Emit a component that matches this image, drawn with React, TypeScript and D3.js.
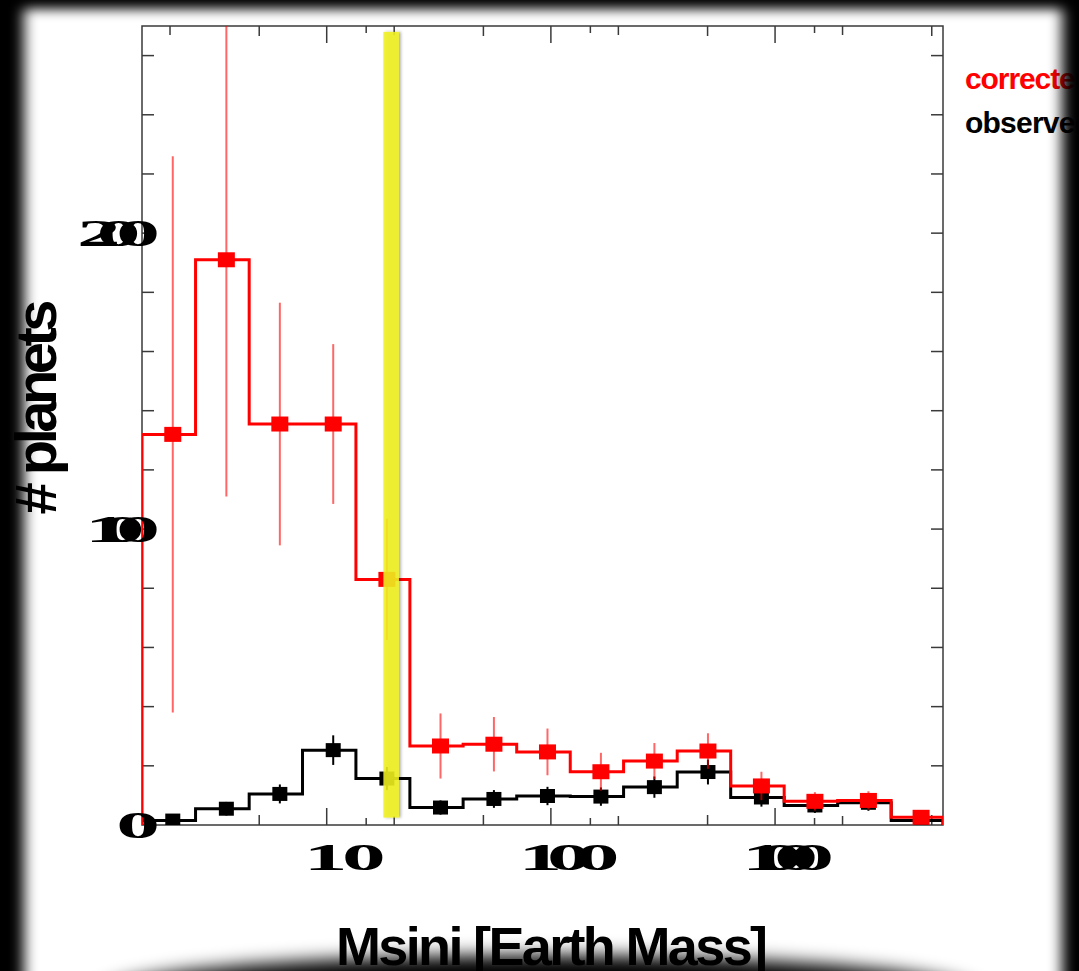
import React, { useEffect } from "react";
import * as d3 from "d3";

// histogram bins (Earth masses), equal width in log space
const binEdges = [1.5, 2.6, 4.51, 7.8, 13.5, 23.5, 40.6, 70.4, 122, 211, 366, 634, 1098, 1902, 3296, 5612];

// corrected counts and their errors
const correctedCounts = [132, 191, 135.5, 135.5, 83, 26.7, 27.3, 24.7, 18, 21.6, 25, 13.2, 8, 8.3, 2.6];
const correctedErrors = [94, 80, 41, 27, 20.5, 11, 9.2, 7.9, 6.4, 6.1, 6, 4.8, 3.1, 3.1, 0];

// observed counts and their errors
const observedCounts = [1.5, 5.5, 10.5, 25.3, 15.7, 5.9, 8.8, 9.8, 9.6, 12.8, 17.9, 9.3, 6.6, 7.5, 1.5];
const observedErrors = [1.2, 2.3, 3.2, 5, 3.9, 2.4, 3, 3.1, 3.1, 3.6, 4.2, 3.1, 2.5, 2.7, 1.2];

const yTickLabels = [0, 100, 200];
const xTickLabels = [10, 100, 1000];
const yellowBand = [17.9, 21.0];
const seriesNames = ["corrected", "observed"];

const W = 1079;
const H = 971;
const plot = { left: 142, right: 943, top: 26, bottom: 825 };
const markerShift = 4; // markers sit a little right of the bin centre in the original

function StretchText({ x, y, text, sx, width, size, anchor, family, fill = "#000", weight = "bold" }) {
  return (
    <text
      transform={`translate(${x},${y}) scale(${sx},1)`}
      textAnchor={anchor}
      fontFamily={family}
      fontWeight={weight}
      fontSize={size}
      fill={fill}
      textLength={width / sx}
      lengthAdjust="spacing"
    >
      {text}
    </text>
  );
}

function stepPath(x, y, counts) {
  const pts: [number, number][] = [[x(binEdges[0]), y(0)]];
  counts.forEach((v, i) => {
    pts.push([x(binEdges[i]), y(v)]);
    pts.push([x(binEdges[i + 1]), y(v)]);
  });
  pts.push([x(binEdges[binEdges.length - 1]), y(0)]);
  return d3.line()(pts);
}

export default function App() {
  useEffect(() => {
    document.body.style.margin = "0";
  }, []);

  const x = d3.scaleLog().domain([binEdges[0], binEdges[binEdges.length - 1]]).range([plot.left, plot.right]);
  const y = d3.scaleLinear().domain([0, 270]).range([plot.bottom, plot.top]);
  const centers = binEdges.slice(0, -1).map((e, i) => Math.sqrt(e * binEdges[i + 1]));

  // tick marks: decades plus 1.5, 2 and 5 multiples
  const xTicks: { v: number; len: number }[] = [];
  [1, 10, 100, 1000].forEach((d) => {
    [[1, 17], [1.5, 7], [2, 9], [5, 10]].forEach(([m, len]) => {
      const v = d * m;
      if (v > binEdges[0] && v < binEdges[binEdges.length - 1]) xTicks.push({ v, len });
    });
  });
  const yTicks = d3.range(20, 270, 20);

  const series = [
    { name: seriesNames[1], counts: observedCounts, errors: observedErrors, color: "#000", w: 15, h: 14, errOpacity: 1 },
    { name: seriesNames[0], counts: correctedCounts, errors: correctedErrors, color: "#ff0000", w: 17, h: 15, errOpacity: 0.6 },
  ];

  const frame = "#3a3a3a";
  const sans = "'Liberation Sans', Arial, sans-serif";

  return (
    <svg width={W} height={H} style={{ display: "block", background: "#fff" }}>
      <defs>
        <clipPath id="plotClip">
          <rect x={plot.left} y={plot.top} width={plot.right - plot.left} height={plot.bottom - plot.top} />
        </clipPath>
        <filter id="vigBlur" filterUnits="userSpaceOnUse" x={-100} y={-100} width={W + 200} height={H + 200}>
          <feGaussianBlur stdDeviation="7 6" />
        </filter>
        <filter id="shadowBlur" filterUnits="userSpaceOnUse" x={-100} y={-100} width={W + 200} height={H + 200}>
          <feGaussianBlur stdDeviation="9" />
        </filter>
        <filter id="bandShadow" x="-50%" y="-5%" width="200%" height="110%">
          <feDropShadow dx={2} dy={0} stdDeviation={1.5} floodColor="#000" floodOpacity={0.35} />
        </filter>
        <mask id="vigMask" maskUnits="userSpaceOnUse" x={0} y={0} width={W} height={H}>
          <rect x={0} y={0} width={W} height={H} fill="#fff" />
          <rect x={24} y={9} width={1062 - 24} height={1040} fill="#000" filter="url(#vigBlur)" />
        </mask>
      </defs>

      {/* frame */}
      <rect x={plot.left} y={plot.top} width={plot.right - plot.left} height={plot.bottom - plot.top}
        fill="none" stroke={frame} strokeWidth={1.5} />

      {/* ticks */}
      {xTicks.map((t, i) => (
        <g key={"xt" + i} stroke={frame} strokeWidth={1.5}>
          <line x1={x(t.v)} x2={x(t.v)} y1={plot.bottom} y2={plot.bottom - t.len} />
          <line x1={x(t.v)} x2={x(t.v)} y1={plot.top} y2={plot.top + t.len} />
        </g>
      ))}
      {yTicks.map((v) => (
        <g key={"yt" + v} stroke={frame} strokeWidth={1.5}>
          <line x1={plot.left} x2={plot.left + 12} y1={y(v)} y2={y(v)} />
          <line x1={plot.right} x2={plot.right - 12} y1={y(v)} y2={y(v)} />
        </g>
      ))}

      {/* data */}
      <g clipPath="url(#plotClip)">
        {series.map((s) => (
          <g key={s.name}>
            {s.errors.map((e, i) =>
              e > 0 ? (
                <line key={i} x1={x(centers[i]) + markerShift} x2={x(centers[i]) + markerShift}
                  y1={y(s.counts[i] - e)} y2={y(s.counts[i] + e)}
                  stroke={s.color} strokeOpacity={s.errOpacity} strokeWidth={2} />
              ) : null
            )}
            <path d={stepPath(x, y, s.counts)} fill="none" stroke={s.color} strokeWidth={3} />
            {s.counts.map((v, i) => (
              <rect key={i} x={x(centers[i]) + markerShift - s.w / 2} y={y(v) - s.h / 2} width={s.w} height={s.h} fill={s.color} />
            ))}
          </g>
        ))}
      </g>

      {/* highlighted mass */}
      <rect x={x(yellowBand[0])} y={y(268)} width={x(yellowBand[1]) - x(yellowBand[0])} height={y(2.5) - y(268)}
        fill="#f0f020" fillOpacity={0.87} filter="url(#bandShadow)" />

      {/* tick labels */}
      {yTickLabels.map((v) => (
        <StretchText key={"yl" + v} x={160} y={y(v) + 12.5} text={String(v)} sx={2.3}
          width={v === 0 ? 43 : v === 100 ? 75 : 83} size={38} anchor="end" family="'Liberation Serif', serif" />
      ))}
      {xTickLabels.map((v, i) => (
        <StretchText key={"xl" + v} x={x(v) + [18, 18, 13][i]} y={870} text={String(v)} sx={2.3}
          width={[82, 101, 92][i]} size={38} anchor="middle" family="'Liberation Serif', serif" />
      ))}

      {/* axis titles */}
      <text transform="translate(56,407) rotate(-90)" textAnchor="middle" fontFamily={sans}
        fontWeight="bold" fontSize={58} textLength={215} lengthAdjust="spacing">
        # planets
      </text>
      <text x={552} y={965} textAnchor="middle" fontFamily={sans}
        fontWeight="bold" fontSize={54} textLength={432} lengthAdjust="spacing">
        Msini [Earth Mass]
      </text>

      {/* legend */}
      {seriesNames.map((n, i) => (
        <text key={n} x={965} y={89 + i * 44} fontFamily={sans} fontWeight="bold"
          fontSize={30} fill={i === 0 ? "#ff0000" : "#000"} textLength={128} lengthAdjust="spacing">
          {n}
        </text>
      ))}

      {/* vignette */}
      <rect x={0} y={0} width={W} height={H} fill="#000" mask="url(#vigMask)" />
      <ellipse cx={540} cy={995} rx={440} ry={40} fill="#000" filter="url(#shadowBlur)" />
    </svg>
  );
}
